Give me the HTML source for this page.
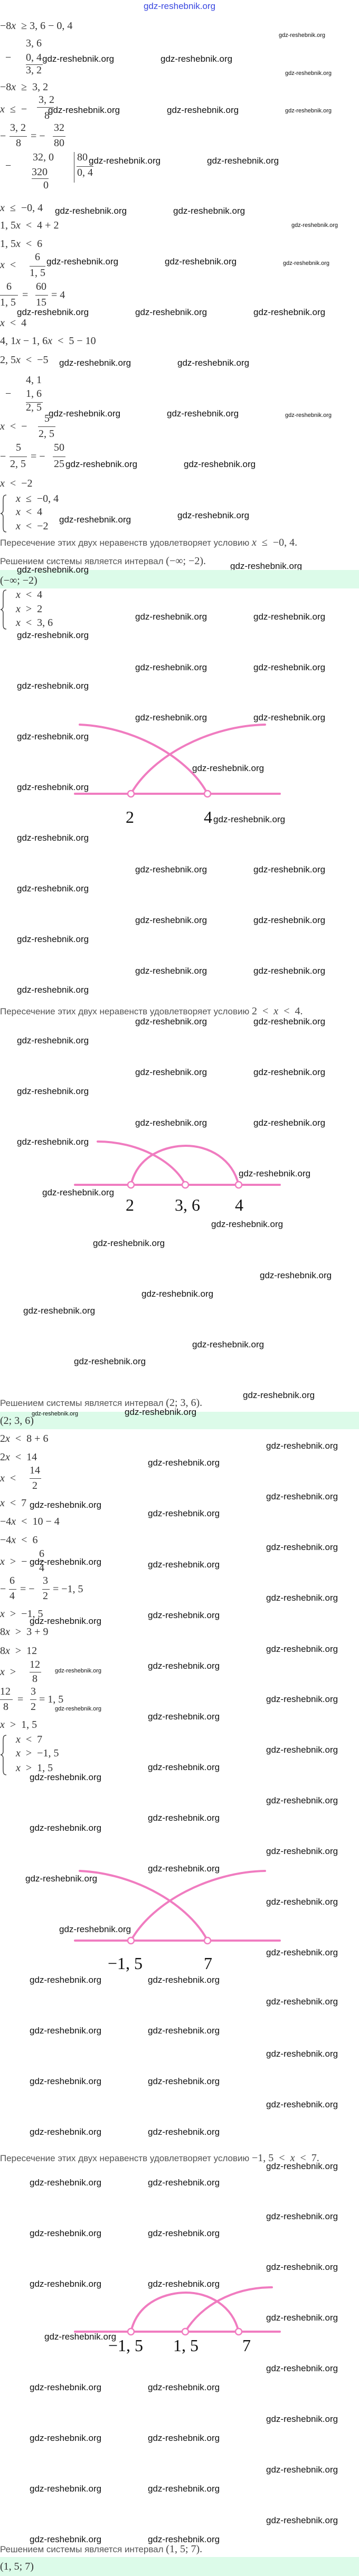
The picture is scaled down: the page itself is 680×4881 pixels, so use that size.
<!DOCTYPE html>
<html><head><meta charset="utf-8"><style>
body{margin:0;background:#fff;}
#p{position:relative;width:680px;height:4881px;overflow:hidden;background:#fff;}
#p div{position:absolute;white-space:nowrap;}
.w{font:17px/20px "Liberation Sans",sans-serif;color:#111;}
.ws{font:11px/14px "Liberation Sans",sans-serif;color:#111;}
.m{font:20px/24px "Liberation Serif",serif;color:#333;}
.m i,.r i{font-style:italic;}
.r{font:17px/22px "Liberation Sans","DejaVu Sans",sans-serif;color:#555;}
.r span{font:20px "Liberation Serif",serif;color:#444;}
.g{font:32px/36px "Liberation Serif",serif;color:#111;width:100px;text-align:center;}
.b{height:1px;background:#444;}
.band{left:0;width:680px;background:#dcfbe9;}
</style></head><body><div id="p">
<div class="w" style="left:0;width:680px;text-align:center;top:2px;color:#3a48e0">gdz-reshebnik.org</div>

<div class="m" style="left:0;top:37px">−8<i>x</i> &nbsp;≥ 3, 6 − 0, 4</div>
<div class="ws" style="left:528px;top:60px">gdz-reshebnik.org</div>
<div class="m" style="left:49px;top:70px">3, 6</div>
<div class="m" style="left:10px;top:97px">−</div>
<div class="m" style="left:49px;top:97px">0, 4</div>
<div class="w" style="left:80px;top:102px">gdz-reshebnik.org</div>
<div class="w" style="left:304px;top:102px">gdz-reshebnik.org</div>
<div class="b" style="left:49px;top:122px;width:32px"></div>
<div class="m" style="left:49px;top:121px">3, 2</div>
<div class="ws" style="left:540px;top:132px">gdz-reshebnik.org</div>
<div class="m" style="left:0;top:153px">−8<i>x</i> &nbsp;≥ &nbsp;3, 2</div>
<div class="m" style="left:0;top:195px"><i>x</i> &nbsp;≤ &nbsp;−</div>
<div class="m" style="left:73px;top:177px">3, 2</div>
<div class="b" style="left:70px;top:203px;width:32px"></div>
<div class="m" style="left:84px;top:207px">8</div>
<div class="w" style="left:91px;top:199px">gdz-reshebnik.org</div>
<div class="w" style="left:316px;top:199px">gdz-reshebnik.org</div>
<div class="ws" style="left:540px;top:203px">gdz-reshebnik.org</div>
<div class="m" style="left:0;top:246px">−</div>
<div class="m" style="left:19px;top:230px">3, 2</div>
<div class="b" style="left:18px;top:258px;width:33px"></div>
<div class="m" style="left:30px;top:259px">8</div>
<div class="m" style="left:58px;top:246px">= −</div>
<div class="m" style="left:102px;top:230px">32</div>
<div class="b" style="left:100px;top:258px;width:24px"></div>
<div class="m" style="left:102px;top:259px">80</div>
<div class="m" style="left:10px;top:302px">−</div>
<div class="m" style="left:62px;top:286px">32, 0</div>
<div class="m" style="left:60px;top:314px">320</div>
<div class="b" style="left:60px;top:338px;width:32px"></div>
<div class="m" style="left:82px;top:339px">0</div>
<div class="b" style="left:140px;top:288px;width:1px;height:58px"></div>
<div class="m" style="left:146px;top:286px">80</div>
<div class="b" style="left:145px;top:315px;width:32px"></div>
<div class="m" style="left:146px;top:315px">0, 4</div>
<div class="w" style="left:168px;top:295px">gdz-reshebnik.org</div>
<div class="w" style="left:392px;top:295px">gdz-reshebnik.org</div>
<div class="m" style="left:0;top:382px"><i>x</i> &nbsp;≤ &nbsp;−0, 4</div>
<div class="w" style="left:104px;top:390px">gdz-reshebnik.org</div>
<div class="w" style="left:328px;top:390px">gdz-reshebnik.org</div>
<div class="m" style="left:0;top:415px">1, 5<i>x</i> &nbsp;&lt; &nbsp;4 + 2</div>
<div class="ws" style="left:552px;top:420px">gdz-reshebnik.org</div>
<div class="m" style="left:0;top:450px">1, 5<i>x</i> &nbsp;&lt; &nbsp;6</div>
<div class="m" style="left:0;top:490px"><i>x</i> &nbsp;&lt;</div>
<div class="m" style="left:66px;top:475px">6</div>
<div class="b" style="left:56px;top:504px;width:30px"></div>
<div class="m" style="left:56px;top:505px">1, 5</div>
<div class="w" style="left:88px;top:486px">gdz-reshebnik.org</div>
<div class="w" style="left:312px;top:486px">gdz-reshebnik.org</div>
<div class="ws" style="left:536px;top:492px">gdz-reshebnik.org</div>
<div class="m" style="left:12px;top:531px">6</div>
<div class="b" style="left:0;top:559px;width:34px"></div>
<div class="m" style="left:0;top:561px">1, 5</div>
<div class="m" style="left:42px;top:547px">=</div>
<div class="m" style="left:68px;top:531px">60</div>
<div class="b" style="left:67px;top:559px;width:24px"></div>
<div class="m" style="left:68px;top:561px">15</div>
<div class="m" style="left:97px;top:547px">= 4</div>
<div class="w" style="left:32px;top:582px">gdz-reshebnik.org</div>
<div class="w" style="left:256px;top:582px">gdz-reshebnik.org</div>
<div class="w" style="left:480px;top:582px">gdz-reshebnik.org</div>

<div class="m" style="left:0;top:600px"><i>x</i> &nbsp;&lt; &nbsp;4</div>
<div class="m" style="left:0;top:634px">4, 1<i>x</i> − 1, 6<i>x</i> &nbsp;&lt; &nbsp;5 − 10</div>
<div class="m" style="left:0;top:670px">2, 5<i>x</i> &nbsp;&lt; &nbsp;−5</div>
<div class="w" style="left:112px;top:678px">gdz-reshebnik.org</div>
<div class="w" style="left:336px;top:678px">gdz-reshebnik.org</div>
<div class="m" style="left:49px;top:708px">4, 1</div>
<div class="m" style="left:10px;top:734px">−</div>
<div class="m" style="left:49px;top:734px">1, 6</div>
<div class="b" style="left:49px;top:762px;width:32px"></div>
<div class="m" style="left:49px;top:760px">2, 5</div>
<div class="w" style="left:92px;top:774px">gdz-reshebnik.org</div>
<div class="w" style="left:316px;top:774px">gdz-reshebnik.org</div>
<div class="ws" style="left:540px;top:780px">gdz-reshebnik.org</div>
<div class="m" style="left:0;top:796px"><i>x</i> &nbsp;&lt; &nbsp;−</div>
<div class="m" style="left:84px;top:781px">5</div>
<div class="b" style="left:72px;top:808px;width:33px"></div>
<div class="m" style="left:73px;top:810px">2, 5</div>
<div class="m" style="left:0;top:853px">−</div>
<div class="m" style="left:30px;top:836px">5</div>
<div class="b" style="left:18px;top:865px;width:33px"></div>
<div class="m" style="left:19px;top:867px">2, 5</div>
<div class="m" style="left:58px;top:853px">= −</div>
<div class="m" style="left:102px;top:836px">50</div>
<div class="b" style="left:100px;top:865px;width:24px"></div>
<div class="m" style="left:102px;top:867px">25</div>
<div class="w" style="left:124px;top:870px">gdz-reshebnik.org</div>
<div class="w" style="left:348px;top:870px">gdz-reshebnik.org</div>
<div class="m" style="left:0;top:904px"><i>x</i> &nbsp;&lt; &nbsp;−2</div>
<svg style="position:absolute;left:0;top:937px" width="14" height="72"><path d="M12 1 C5 1 6 6 6 20 L6 30 C6 34 3 36 1 36 C3 36 6 38 6 42 L6 52 C6 66 5 71 12 71" fill="none" stroke="#444" stroke-width="1.5"/></svg>
<div class="m" style="left:30px;top:933px"><i>x</i> &nbsp;≤ &nbsp;−0, 4</div>
<div class="m" style="left:30px;top:958px"><i>x</i> &nbsp;&lt; &nbsp;4</div>
<div class="m" style="left:30px;top:985px"><i>x</i> &nbsp;&lt; &nbsp;−2</div>
<div class="w" style="left:112px;top:975px">gdz-reshebnik.org</div>
<div class="w" style="left:336px;top:967px">gdz-reshebnik.org</div>
<div class="r" style="left:0;top:1017px">Пересечение этих двух неравенств удовлетворяет условию <span><i>x</i> &nbsp;≤ &nbsp;−0, 4.</span></div>
<div class="r" style="left:0;top:1052px">Решением системы является интервал <span>(−∞; −2).</span></div>
<div class="w" style="left:436px;top:1063px">gdz-reshebnik.org</div>
<div class="band" style="top:1080px;height:35px"></div>
<div class="w" style="left:32px;top:1070px">gdz-reshebnik.org</div>
<div class="m" style="left:0;top:1088px">(−∞; −2)</div>

<svg style="position:absolute;left:0;top:1117px" width="14" height="76"><path d="M12 1 C5 1 6 6 6 20 L6 32 C6 36 3 38 1 38 C3 38 6 40 6 44 L6 56 C6 70 5 75 12 75" fill="none" stroke="#444" stroke-width="1.5"/></svg>
<div class="m" style="left:30px;top:1115px"><i>x</i> &nbsp;&lt; &nbsp;4</div>
<div class="m" style="left:30px;top:1142px"><i>x</i> &nbsp;&gt; &nbsp;2</div>
<div class="m" style="left:30px;top:1168px"><i>x</i> &nbsp;&lt; &nbsp;3, 6</div>
<div class="w" style="left:256px;top:1159px">gdz-reshebnik.org</div>
<div class="w" style="left:480px;top:1159px">gdz-reshebnik.org</div>
<div class="w" style="left:32px;top:1194px">gdz-reshebnik.org</div>
<div class="w" style="left:256px;top:1255px">gdz-reshebnik.org</div>
<div class="w" style="left:480px;top:1255px">gdz-reshebnik.org</div>
<div class="w" style="left:32px;top:1290px">gdz-reshebnik.org</div>
<div class="w" style="left:256px;top:1350px">gdz-reshebnik.org</div>
<div class="w" style="left:480px;top:1350px">gdz-reshebnik.org</div>
<div class="w" style="left:32px;top:1386px">gdz-reshebnik.org</div>
<div class="w" style="left:364px;top:1446px">gdz-reshebnik.org</div>
<div class="w" style="left:32px;top:1482px">gdz-reshebnik.org</div>
<div class="w" style="left:404px;top:1543px">gdz-reshebnik.org</div>
<div class="w" style="left:32px;top:1578px">gdz-reshebnik.org</div>
<div class="w" style="left:256px;top:1638px">gdz-reshebnik.org</div>
<div class="w" style="left:480px;top:1638px">gdz-reshebnik.org</div>
<div class="w" style="left:32px;top:1674px">gdz-reshebnik.org</div>
<div class="g" style="left:196px;top:1530px">2</div>
<div class="g" style="left:344px;top:1530px">4</div>

<div class="w" style="left:256px;top:1734px">gdz-reshebnik.org</div>
<div class="w" style="left:480px;top:1734px">gdz-reshebnik.org</div>
<div class="w" style="left:32px;top:1770px">gdz-reshebnik.org</div>
<div class="w" style="left:256px;top:1830px">gdz-reshebnik.org</div>
<div class="w" style="left:480px;top:1830px">gdz-reshebnik.org</div>
<div class="w" style="left:32px;top:1866px">gdz-reshebnik.org</div>
<div class="r" style="left:0;top:1905px">Пересечение этих двух неравенств удовлетворяет условию <span>2 &nbsp;&lt; &nbsp;<i>x</i> &nbsp;&lt; &nbsp;4.</span></div>
<div class="w" style="left:256px;top:1926px">gdz-reshebnik.org</div>
<div class="w" style="left:480px;top:1926px">gdz-reshebnik.org</div>
<div class="w" style="left:32px;top:1962px">gdz-reshebnik.org</div>
<div class="w" style="left:256px;top:2022px">gdz-reshebnik.org</div>
<div class="w" style="left:480px;top:2022px">gdz-reshebnik.org</div>
<div class="w" style="left:32px;top:2058px">gdz-reshebnik.org</div>
<div class="w" style="left:256px;top:2118px">gdz-reshebnik.org</div>
<div class="w" style="left:480px;top:2118px">gdz-reshebnik.org</div>
<div class="w" style="left:32px;top:2154px">gdz-reshebnik.org</div>
<div class="w" style="left:452px;top:2214px">gdz-reshebnik.org</div>
<div class="w" style="left:80px;top:2250px">gdz-reshebnik.org</div>
<div class="w" style="left:400px;top:2310px">gdz-reshebnik.org</div>
<div class="w" style="left:176px;top:2346px">gdz-reshebnik.org</div>
<div class="g" style="left:196px;top:2265px">2</div>
<div class="g" style="left:305px;top:2265px">3, 6</div>
<div class="g" style="left:403px;top:2265px">4</div>

<div class="w" style="left:492px;top:2407px">gdz-reshebnik.org</div>
<div class="w" style="left:268px;top:2442px">gdz-reshebnik.org</div>
<div class="w" style="left:44px;top:2474px">gdz-reshebnik.org</div>
<div class="w" style="left:364px;top:2538px">gdz-reshebnik.org</div>
<div class="w" style="left:140px;top:2570px">gdz-reshebnik.org</div>
<div class="w" style="left:460px;top:2634px">gdz-reshebnik.org</div>
<div class="r" style="left:0;top:2647px">Решением системы является интервал <span>(2; 3, 6).</span></div>
<div class="band" style="top:2675px;height:33px"></div>
<div class="ws" style="left:60px;top:2672px">gdz-reshebnik.org</div>
<div class="w" style="left:236px;top:2666px">gdz-reshebnik.org</div>
<div class="m" style="left:0;top:2680px">(2; 3, 6)</div>
<div class="m" style="left:0;top:2714px">2<i>x</i> &nbsp;&lt; &nbsp;8 + 6</div>
<div class="w" style="left:504px;top:2730px">gdz-reshebnik.org</div>
<div class="m" style="left:0;top:2749px">2<i>x</i> &nbsp;&lt; &nbsp;14</div>
<div class="w" style="left:280px;top:2762px">gdz-reshebnik.org</div>
<div class="m" style="left:0;top:2789px"><i>x</i> &nbsp;&lt;</div>
<div class="m" style="left:56px;top:2774px">14</div>
<div class="b" style="left:56px;top:2801px;width:22px"></div>
<div class="m" style="left:61px;top:2803px">2</div>
<div class="w" style="left:504px;top:2826px">gdz-reshebnik.org</div>
<div class="m" style="left:0;top:2836px"><i>x</i> &nbsp;&lt; &nbsp;7</div>
<div class="w" style="left:56px;top:2842px">gdz-reshebnik.org</div>
<div class="w" style="left:280px;top:2858px">gdz-reshebnik.org</div>
<div class="m" style="left:0;top:2871px">−4<i>x</i> &nbsp;&lt; &nbsp;10 − 4</div>
<div class="m" style="left:0;top:2906px">−4<i>x</i> &nbsp;&lt; &nbsp;6</div>
<div class="w" style="left:504px;top:2922px">gdz-reshebnik.org</div>
<div class="m" style="left:0;top:2947px"><i>x</i> &nbsp;&gt; &nbsp;−</div>
<div class="m" style="left:74px;top:2932px">6</div>
<div class="b" style="left:72px;top:2958px;width:12px"></div>
<div class="m" style="left:74px;top:2959px">4</div>
<div class="w" style="left:56px;top:2950px">gdz-reshebnik.org</div>
<div class="w" style="left:280px;top:2955px">gdz-reshebnik.org</div>
<div class="m" style="left:0;top:2999px">−</div>
<div class="m" style="left:18px;top:2983px">6</div>
<div class="b" style="left:17px;top:3011px;width:14px"></div>
<div class="m" style="left:18px;top:3012px">4</div>
<div class="m" style="left:38px;top:2999px">= −</div>
<div class="m" style="left:81px;top:2983px">3</div>
<div class="b" style="left:80px;top:3011px;width:14px"></div>
<div class="m" style="left:81px;top:3012px">2</div>
<div class="m" style="left:100px;top:2999px">= −1, 5</div>
<div class="w" style="left:504px;top:3018px">gdz-reshebnik.org</div>
<div class="m" style="left:0;top:3046px"><i>x</i> &nbsp;&gt; &nbsp;−1, 5</div>
<div class="w" style="left:280px;top:3051px">gdz-reshebnik.org</div>
<div class="w" style="left:56px;top:3062px">gdz-reshebnik.org</div>
<div class="m" style="left:0;top:3080px">8<i>x</i> &nbsp;&gt; &nbsp;3 + 9</div>

<div class="m" style="left:0;top:3116px">8<i>x</i> &nbsp;&gt; &nbsp;12</div>
<div class="w" style="left:504px;top:3115px">gdz-reshebnik.org</div>
<div class="m" style="left:0;top:3156px"><i>x</i> &nbsp;&gt;</div>
<div class="m" style="left:56px;top:3142px">12</div>
<div class="b" style="left:56px;top:3168px;width:22px"></div>
<div class="m" style="left:61px;top:3169px">8</div>
<div class="ws" style="left:104px;top:3159px">gdz-reshebnik.org</div>
<div class="w" style="left:280px;top:3147px">gdz-reshebnik.org</div>
<div class="m" style="left:0;top:3193px">12</div>
<div class="b" style="left:0;top:3220px;width:24px"></div>
<div class="m" style="left:6px;top:3222px">8</div>
<div class="m" style="left:33px;top:3208px">=</div>
<div class="m" style="left:58px;top:3193px">3</div>
<div class="b" style="left:57px;top:3220px;width:12px"></div>
<div class="m" style="left:58px;top:3222px">2</div>
<div class="m" style="left:74px;top:3208px">= 1, 5</div>
<div class="w" style="left:504px;top:3210px">gdz-reshebnik.org</div>
<div class="ws" style="left:104px;top:3231px">gdz-reshebnik.org</div>
<div class="w" style="left:280px;top:3243px">gdz-reshebnik.org</div>
<div class="m" style="left:0;top:3256px"><i>x</i> &nbsp;&gt; &nbsp;1, 5</div>
<svg style="position:absolute;left:0;top:3287px" width="14" height="77"><path d="M12 1 C5 1 6 6 6 20 L6 32 C6 36 3 38 1 38 C3 38 6 40 6 44 L6 56 C6 70 5 76 12 76" fill="none" stroke="#444" stroke-width="1.5"/></svg>
<div class="m" style="left:30px;top:3284px"><i>x</i> &nbsp;&lt; &nbsp;7</div>
<div class="m" style="left:30px;top:3310px"><i>x</i> &nbsp;&gt; &nbsp;−1, 5</div>
<div class="m" style="left:30px;top:3338px"><i>x</i> &nbsp;&gt; &nbsp;1, 5</div>
<div class="w" style="left:504px;top:3306px">gdz-reshebnik.org</div>
<div class="w" style="left:280px;top:3339px">gdz-reshebnik.org</div>
<div class="w" style="left:56px;top:3358px">gdz-reshebnik.org</div>
<div class="w" style="left:504px;top:3402px">gdz-reshebnik.org</div>
<div class="w" style="left:280px;top:3435px">gdz-reshebnik.org</div>
<div class="w" style="left:56px;top:3454px">gdz-reshebnik.org</div>
<div class="w" style="left:504px;top:3498px">gdz-reshebnik.org</div>
<div class="w" style="left:280px;top:3531px">gdz-reshebnik.org</div>
<div class="w" style="left:48px;top:3550px">gdz-reshebnik.org</div>
<div class="w" style="left:504px;top:3594px">gdz-reshebnik.org</div>
<div class="w" style="left:112px;top:3646px">gdz-reshebnik.org</div>
<div class="w" style="left:504px;top:3690px">gdz-reshebnik.org</div>
<div class="w" style="left:56px;top:3742px">gdz-reshebnik.org</div>
<div class="w" style="left:280px;top:3742px">gdz-reshebnik.org</div>
<div class="w" style="left:504px;top:3783px">gdz-reshebnik.org</div>
<div class="g" style="left:187px;top:3702px">−1, 5</div>
<div class="g" style="left:344px;top:3702px">7</div>

<div class="w" style="left:56px;top:3838px">gdz-reshebnik.org</div>
<div class="w" style="left:280px;top:3838px">gdz-reshebnik.org</div>
<div class="w" style="left:504px;top:3882px">gdz-reshebnik.org</div>
<div class="w" style="left:56px;top:3934px">gdz-reshebnik.org</div>
<div class="w" style="left:280px;top:3934px">gdz-reshebnik.org</div>
<div class="w" style="left:504px;top:3978px">gdz-reshebnik.org</div>
<div class="w" style="left:56px;top:4030px">gdz-reshebnik.org</div>
<div class="w" style="left:280px;top:4030px">gdz-reshebnik.org</div>
<div class="r" style="left:0;top:4078px">Пересечение этих двух неравенств удовлетворяет условию <span>−1, 5 &nbsp;&lt; &nbsp;<i>x</i> &nbsp;&lt; &nbsp;7.</span></div>
<div class="w" style="left:504px;top:4095px">gdz-reshebnik.org</div>
<div class="w" style="left:56px;top:4126px">gdz-reshebnik.org</div>
<div class="w" style="left:280px;top:4126px">gdz-reshebnik.org</div>
<div class="w" style="left:504px;top:4190px">gdz-reshebnik.org</div>
<div class="w" style="left:56px;top:4222px">gdz-reshebnik.org</div>
<div class="w" style="left:280px;top:4222px">gdz-reshebnik.org</div>
<div class="w" style="left:504px;top:4286px">gdz-reshebnik.org</div>
<div class="w" style="left:56px;top:4318px">gdz-reshebnik.org</div>
<div class="w" style="left:280px;top:4318px">gdz-reshebnik.org</div>
<div class="w" style="left:504px;top:4382px">gdz-reshebnik.org</div>
<div class="w" style="left:84px;top:4418px">gdz-reshebnik.org</div>
<div class="g" style="left:188px;top:4426px">−1, 5</div>
<div class="g" style="left:302px;top:4426px">1, 5</div>
<div class="g" style="left:417px;top:4426px">7</div>
<div class="w" style="left:504px;top:4478px">gdz-reshebnik.org</div>
<div class="w" style="left:56px;top:4514px">gdz-reshebnik.org</div>
<div class="w" style="left:280px;top:4514px">gdz-reshebnik.org</div>
<div class="w" style="left:504px;top:4574px">gdz-reshebnik.org</div>
<div class="w" style="left:56px;top:4610px">gdz-reshebnik.org</div>
<div class="w" style="left:280px;top:4610px">gdz-reshebnik.org</div>
<div class="w" style="left:504px;top:4670px">gdz-reshebnik.org</div>
<div class="w" style="left:56px;top:4706px">gdz-reshebnik.org</div>
<div class="w" style="left:280px;top:4706px">gdz-reshebnik.org</div>
<div class="w" style="left:504px;top:4766px">gdz-reshebnik.org</div>
<div class="w" style="left:56px;top:4802px">gdz-reshebnik.org</div>
<div class="w" style="left:280px;top:4802px">gdz-reshebnik.org</div>
<div class="r" style="left:0;top:4819px">Решением системы является интервал <span>(1, 5; 7).</span></div>
<div class="band" style="top:4845px;height:36px"></div>
<div class="m" style="left:0;top:4851px">(1, 5; 7)</div>

<svg style="position:absolute;left:0;top:0" width="680" height="4881" fill="none" stroke="#f07cc0" stroke-width="4" stroke-linecap="round">
<g>
<path d="M142 1504 H530"/>
<path d="M151 1373 C260 1378 360 1440 393 1504"/>
<path d="M248 1504 C290 1430 400 1375 502 1373"/>
<circle cx="248" cy="1504" r="6" stroke-width="2.5" fill="#fff"/>
<circle cx="393" cy="1504" r="6" stroke-width="2.5" fill="#fff"/>
</g>
<g>
<path d="M142 2245 H530"/>
<path d="M185 2163 C260 2163 330 2200 351 2245"/>
<path d="M248 2245 C262 2185 320 2171 352 2171 C395 2171 440 2195 452 2245"/>
<circle cx="248" cy="2245" r="6" stroke-width="2.5" fill="#fff"/>
<circle cx="351" cy="2245" r="6" stroke-width="2.5" fill="#fff"/>
<circle cx="452" cy="2245" r="6" stroke-width="2.5" fill="#fff"/>
</g>
<g>
<path d="M142 3677 H530"/>
<path d="M151 3545 C260 3550 360 3612 393 3677"/>
<path d="M248 3677 C290 3602 400 3547 502 3545"/>
<circle cx="248" cy="3677" r="6" stroke-width="2.5" fill="#fff"/>
<circle cx="393" cy="3677" r="6" stroke-width="2.5" fill="#fff"/>
</g>
<g>
<path d="M142 4418 H530"/>
<path d="M248 4418 C262 4358 320 4344 352 4344 C395 4344 440 4368 452 4418"/>
<path d="M351 4418 C380 4370 440 4334 515 4334"/>
<circle cx="248" cy="4418" r="6" stroke-width="2.5" fill="#fff"/>
<circle cx="351" cy="4418" r="6" stroke-width="2.5" fill="#fff"/>
<circle cx="452" cy="4418" r="6" stroke-width="2.5" fill="#fff"/>
</g>
</svg>
</div></body></html>
